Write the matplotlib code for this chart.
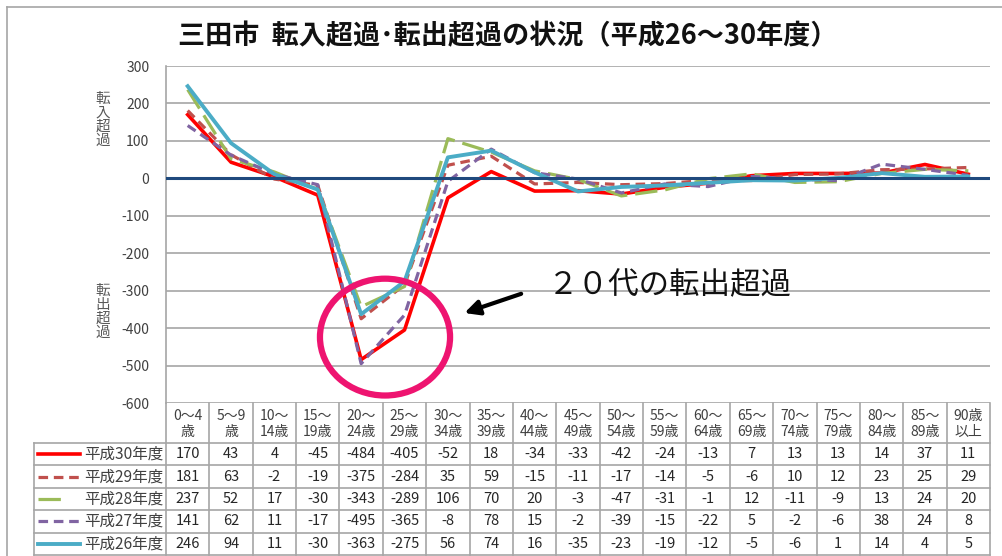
import numpy as np
import matplotlib
matplotlib.use("Agg")
import matplotlib.pyplot as plt
from matplotlib.lines import Line2D
from matplotlib.patches import Ellipse
import matplotlib.transforms as mtransforms

plt.rcParams['font.family'] = ['Noto Sans CJK JP', 'DejaVu Sans']

# --- data ---
age_labels = ["0～4\n歳", "5～9\n歳", "10～\n14歳", "15～\n19歳", "20～\n24歳", "25～\n29歳",
              "30～\n34歳", "35～\n39歳", "40～\n44歳", "45～\n49歳", "50～\n54歳", "55～\n59歳",
              "60～\n64歳", "65～\n69歳", "70～\n74歳", "75～\n79歳", "80～\n84歳", "85～\n89歳",
              "90歳\n以上"]
series_names = ["平成30年度", "平成29年度", "平成28年度", "平成27年度", "平成26年度"]
h30 = [170, 43, 4, -45, -484, -405, -52, 18, -34, -33, -42, -24, -13, 7, 13, 13, 14, 37, 11]
h29 = [181, 63, -2, -19, -375, -284, 35, 59, -15, -11, -17, -14, -5, -6, 10, 12, 23, 25, 29]
h28 = [237, 52, 17, -30, -343, -289, 106, 70, 20, -3, -47, -31, -1, 12, -11, -9, 13, 24, 20]
h27 = [141, 62, 11, -17, -495, -365, -8, 78, 15, -2, -39, -15, -22, 5, -2, -6, 38, 24, 8]
h26 = [246, 94, 11, -30, -363, -275, 56, 74, 16, -35, -23, -19, -12, -5, -6, 1, 14, 4, 5]
series_values = [h30, h29, h28, h27, h26]
yticks = [300, 200, 100, 0, -100, -200, -300, -400, -500, -600]

styles = [
    dict(color="#FF0000", lw=2.6, ls="-"),
    dict(color="#C0504D", lw=2.3, ls=(0, (3, 1.8))),
    dict(color="#9BBB59", lw=2.3, ls=(0, (7, 2.5))),
    dict(color="#8064A2", lw=2.3, ls=(0, (3, 1.8))),
    dict(color="#4BACC6", lw=2.8, ls="-"),
]

W, H = 1002, 556
fig = plt.figure(figsize=(W / 100, H / 100), dpi=100)
fig.patch.set_facecolor("white")

def fx(x):
    return x / W

def fy(y):
    return 1 - y / H

# outer frame
fig.add_artist(Line2D([fx(7), fx(1002)], [fy(7), fy(7)], color="#A6A6A6", lw=1.2))
fig.add_artist(Line2D([fx(7), fx(7)], [fy(7), fy(556)], color="#A6A6A6", lw=1.2))

ax = fig.add_axes([fx(166), fy(403), fx(990) - fx(166), fy(66) - fy(403)])
x = np.arange(len(age_labels))
ax.set_xlim(-0.5, len(age_labels) - 0.5)
ax.set_ylim(-600, 300)
ax.set_yticks(yticks)
ax.set_yticklabels([str(t) for t in yticks], fontsize=10, color="#404040")
ax.tick_params(axis="y", length=0, pad=12)
ax.set_xticks([])
ax.grid(axis="y", color="#A6A6A6", lw=1.2)
ax.set_axisbelow(True)
for s in ["top", "right", "bottom"]:
    ax.spines[s].set_visible(False)
ax.spines["left"].set_color("#A6A6A6")
ax.spines["left"].set_linewidth(1.2)

for vals, st in zip(series_values, styles):
    ax.plot(x, vals, color=st["color"], lw=st["lw"], linestyle=st["ls"], zorder=3)
ax.axhline(0, color="#1F497D", lw=2.2, zorder=4)

# side labels
fig.text(fx(103), fy(120), "転\n入\n超\n過", ha="center", va="center", fontsize=10.5,
         color="#595959", linespacing=1.0)
fig.text(fx(103), fy(312), "転\n出\n超\n過", ha="center", va="center", fontsize=10.5,
         color="#595959", linespacing=1.0)

# title
fig.text(fx(508), fy(36), "三田市  転入超過･転出超過の状況（平成26～30年度）", ha="center",
         va="center", fontsize=19.5, fontweight="bold", color="#111111")

# highlight circle + arrow + note
ax.add_patch(Ellipse((4.55, -424), 3.0, 312, fill=False, edgecolor="#EE1470", lw=4.5,
                     zorder=6, clip_on=False))
ax.annotate("", xy=(6.32, -362), xytext=(7.75, -306),
            arrowprops=dict(arrowstyle="-|>", color="black", lw=3, mutation_scale=22),
            zorder=7)
ax.text(8.3, -288, "２０代の転出超過", fontsize=22, va="center", ha="left", color="#111111")

# --- data table below the axes ---
tr = mtransforms.blended_transform_factory(ax.transData, fig.transFigure)
grid_c = "#A6A6A6"
row_top = 403
head_bot = 443
row_h = 22.4
n_rows = len(series_names)
bottom = head_bot + n_rows * row_h

# vertical lines between columns
for i in range(len(age_labels) + 1):
    xv = i - 0.5
    fig.add_artist(Line2D([xv, xv], [fy(row_top), fy(bottom)], color=grid_c, lw=1.2,
                          transform=tr))
# horizontal lines across value columns
for j in range(n_rows + 1):
    yy = head_bot + j * row_h
    fig.add_artist(Line2D([fx(34), fx(990)], [fy(yy), fy(yy)], color=grid_c, lw=1.2))
fig.add_artist(Line2D([fx(34), fx(34)], [fy(head_bot), fy(bottom)], color=grid_c, lw=1.2))

for i, lab in enumerate(age_labels):
    fig.text(i, fy((row_top + head_bot) / 2 + 1), lab, transform=tr, ha="center",
             va="center", fontsize=10, color="#404040", linespacing=1.25)

for j, (name, vals, st) in enumerate(zip(series_names, series_values, styles)):
    yc = head_bot + (j + 0.5) * row_h
    seg_end = 67 if j == 2 else 80
    fig.add_artist(Line2D([fx(38), fx(seg_end)], [fy(yc), fy(yc)], color=st["color"],
                          lw=st["lw"], linestyle=st["ls"]))
    fig.text(fx(163), fy(yc), name, ha="right", va="center", fontsize=11.2, color="#404040")
    for i, v in enumerate(vals):
        fig.text(i, fy(yc), str(v), transform=tr, ha="center", va="center", fontsize=10.5,
                 color="#262626")

fig.savefig("out.png", dpi=100)
